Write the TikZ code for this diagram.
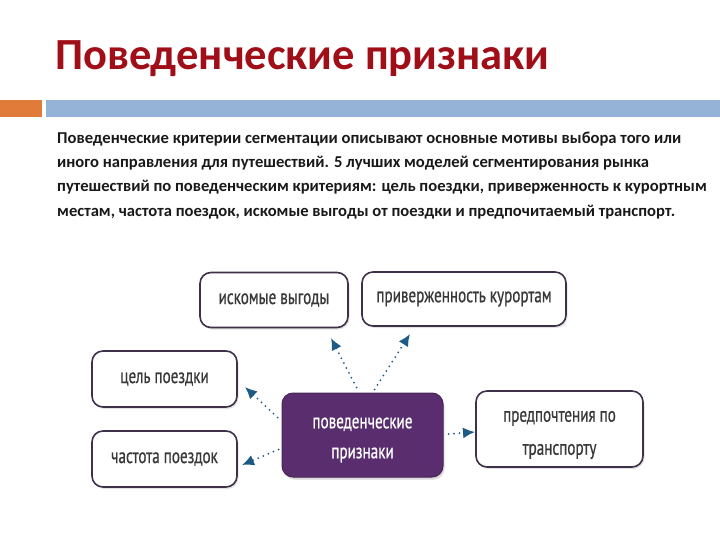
\documentclass[tikz,border=0pt]{standalone}
\usepackage{fontspec}
\setmainfont{Carlito}
\newfontfamily\boxfont[FakeStretch=0.72,FakeBold=0.6]{PT Sans}
\usetikzlibrary{arrows.meta,shadows}
\definecolor{titlered}{HTML}{A00E18}
\definecolor{barorange}{HTML}{E07B39}
\definecolor{barblue}{HTML}{95B3D7}
\definecolor{boxline}{HTML}{3E3048}
\definecolor{purp}{HTML}{5A2D6E}
\definecolor{txtgray}{HTML}{383838}
\definecolor{arrblue}{HTML}{1E5A86}
\tikzset{
  wbox/.style={draw=boxline, line width=1.6pt, rounded corners=11pt, fill=white,
    drop shadow={opacity=0.22, shadow xshift=1.5pt, shadow yshift=-2pt},
    font=\boxfont\fontsize{21}{26}\selectfont, text=txtgray, align=center, inner sep=0pt},
  pbox/.style={draw=purp!80!black, line width=1pt, rounded corners=11pt, fill=purp,
    drop shadow={opacity=0.3, shadow xshift=1.5pt, shadow yshift=-2.5pt}, inner sep=0pt},
  btxt/.style={font=\boxfont\fontsize{21}{30}\selectfont, align=center, inner sep=0pt},
  arr/.style={arrblue, line width=2pt, line cap=round, dash pattern=on 0pt off 5.5pt, -{Latex[length=12pt,width=11pt]}},
  para/.style={anchor=base west, inner sep=0pt, font=\bfseries\fontsize{16.6}{20}\selectfont, text=black!90}
}
\begin{document}
\begin{tikzpicture}[x=1pt,y=-1pt]
\useasboundingbox (0,0) rectangle (720,540);
\node[anchor=base west, inner sep=0pt, text=titlered, font=\bfseries\fontsize{44.5}{50}\selectfont] (title) at (55,70) {Поведенческие признаки};
\fill[barorange] (0,100) rectangle (42,117);
\fill[barblue] (46,100) rectangle (720,117);
\node[para] (p1) at (57,144) {Поведенческие критерии сегментации описывают основные мотивы выбора того или};
\node[para] (p2) at (57,168) {иного направления для путешествий. 5 лучших моделей сегментирования рынка};
\node[para] (p3) at (57,192) {путешествий по поведенческим критериям: цель поездки, приверженность к курортным};
\node[para] (p4) at (57,216) {местам, частота поездок, искомые выгоды от поездки и предпочитаемый транспорт.};
\node[wbox, minimum width=148pt, minimum height=55pt] (b1) at (274,300) {искомые выгоды};
\node[wbox, minimum width=204pt, minimum height=54pt] (b2) at (464,299) {приверженность курортам};
\node[wbox, minimum width=145pt, minimum height=56pt] (b3) at (164.5,379) {цель поездки};
\node[wbox, minimum width=145pt, minimum height=56pt] (b4) at (164.5,459) {частота поездок};
\node[pbox, minimum width=161pt, minimum height=84pt] (c) at (362.5,435) {};
\node[btxt, text=white] (ct) at (362.5,440) {поведенческие\\признаки};
\node[wbox, minimum width=167pt, minimum height=76pt] (b5) at (559.5,429) {};
\node[btxt, text=txtgray, font=\boxfont\fontsize{21}{33}\selectfont] (b5t) at (559.5,435) {предпочтения по\\транспорту};
\coordinate (e1) at (331,338);
\coordinate (e2) at (410,334);
\coordinate (e3) at (245,387);
\coordinate (e4) at (242,465);
\coordinate (e5) at (475,432);
\draw[arr] (c.north west) ++(75,-5) -- (e1);
\draw[arr] (c.north west) ++(93,-3) -- (e2);
\draw[arr] (c.north west) ++(-4,25) -- (e3);
\draw[arr] (c.north west) ++(-3,57) -- (e4);
\draw[arr] (c.east) ++(5,-1) -- (e5);
\end{tikzpicture}
\end{document}
